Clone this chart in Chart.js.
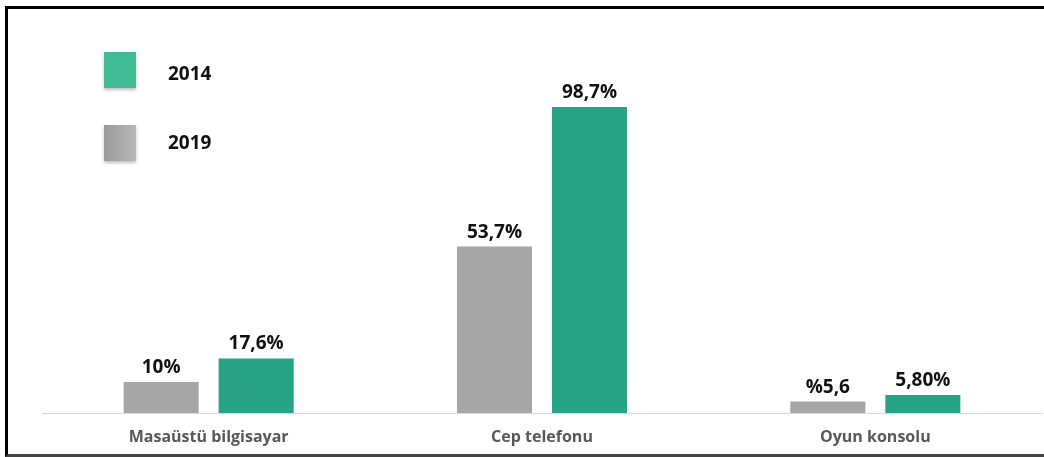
<!DOCTYPE html>
<html>
<head>
<meta charset="utf-8">
<script src="https://cdn.jsdelivr.net/npm/chart.js@4.4.1/dist/chart.umd.min.js"></script>
<style>
    html, body { margin: 0; padding: 0; background: #fff; }
    #wrap { position: relative; width: 1044px; height: 457px; overflow: hidden; }
    #frame {
        position: absolute; left: 5px; top: 6px; width: 1045px; height: 451px;
        box-sizing: border-box;
        border-top: 3px solid #000; border-left: 3px solid #000; border-bottom: 3px solid #444;
    }
    #chart { position: absolute; left: 0; top: 0; }
</style>
</head>
<body>
<div id="wrap">
    <div id="frame"></div>
    <canvas id="chart" width="1044" height="457"></canvas>
</div>
<script>
(function () {
    'use strict';

    // ── Data ────────────────────────────────────────────────────────────────
    const categories = ['Masaüstü bilgisayar', 'Cep telefonu', 'Oyun konsolu'];
    const values2019 = [10, 53.7, 3.7];
    const values2014 = [17.6, 98.7, 5.8];
    const labels2019 = ['10%', '53,7%', '%5,6'];
    const labels2014 = ['17,6%', '98,7%', '5,80%'];

    const COLORS = {
        green:      '#29a386',
        gray:       '#a6a6a6',
        legendGreen:'#41ba96',
        axis:       '#d9d9d9',
        tick:       '#595959',
        text:       '#111111',
    };

    const FONT = '"Open Sans", Lato, sans-serif';

    // ── Value labels above the bars ─────────────────────────────────────────
    const valueLabels = {
        id: 'valueLabels',
        afterDatasetsDraw(chart) {
            const ctx = chart.ctx;
            ctx.save();
            ctx.font = `bold 19px ${FONT}`;
            ctx.fillStyle = COLORS.text;
            ctx.textAlign = 'center';
            ctx.textBaseline = 'alphabetic';
            chart.data.datasets.forEach((ds, i) => {
                chart.getDatasetMeta(i).data.forEach((bar, j) => {
                    ctx.fillText(ds.valueText[j], bar.x, bar.y - 9);
                });
            });
            ctx.restore();
        }
    };

    // ── Legend (2014 on top, 2019 below) ────────────────────────────────────
    const sideLegend = {
        id: 'sideLegend',
        afterDraw(chart) {
            const ctx = chart.ctx;
            const items = chart.data.datasets.slice().reverse();
            ctx.save();
            items.forEach((ds, i) => {
                const y = 52 + i * 73;
                ctx.shadowColor = 'rgba(0,0,0,.25)';
                ctx.shadowBlur = 3;
                ctx.shadowOffsetY = 2;
                if (ds.legendFill === 'gray') {
                    const g = ctx.createLinearGradient(104, 0, 136, 0);
                    g.addColorStop(0, '#999999');
                    g.addColorStop(1, '#b8b8b8');
                    ctx.fillStyle = g;
                } else {
                    ctx.fillStyle = COLORS.legendGreen;
                }
                ctx.fillRect(104, y, 32, 36);
                ctx.shadowColor = 'transparent';
                ctx.font = `bold 19px ${FONT}`;
                ctx.fillStyle = COLORS.text;
                ctx.textAlign = 'left';
                ctx.textBaseline = 'middle';
                ctx.fillText(ds.label, 168, y + 23 - i * 4);
            });
            ctx.restore();
        }
    };

    new Chart(document.getElementById('chart'), {
        type: 'bar',
        data: {
            labels: categories,
            datasets: [
                {
                    label: '2019',
                    data: values2019,
                    valueText: labels2019,
                    legendFill: 'gray',
                    backgroundColor: COLORS.gray,
                    categoryPercentage: 0.57,
                    barPercentage: 0.79,
                },
                {
                    label: '2014',
                    data: values2014,
                    valueText: labels2014,
                    legendFill: 'green',
                    backgroundColor: COLORS.green,
                    categoryPercentage: 0.57,
                    barPercentage: 0.79,
                }
            ]
        },
        options: {
            responsive: false,
            animation: false,
            layout: { padding: { left: 42, right: 2, top: 103, bottom: 0 } },
            plugins: {
                legend:  { display: false },
                tooltip: { enabled: false },
            },
            scales: {
                x: {
                    grid:   { display: false, drawTicks: false },
                    border: { display: true, color: COLORS.axis, width: 1 },
                    ticks:  { color: COLORS.tick, padding: 15, font: { family: FONT, size: 16, weight: 'bold' } },
                    afterFit: scale => { scale.height = 44; },
                },
                y: {
                    display: false,
                    min: 0,
                    max: 100,
                }
            }
        },
        plugins: [valueLabels, sideLegend]
    });
})();
</script>
</body>
</html>
